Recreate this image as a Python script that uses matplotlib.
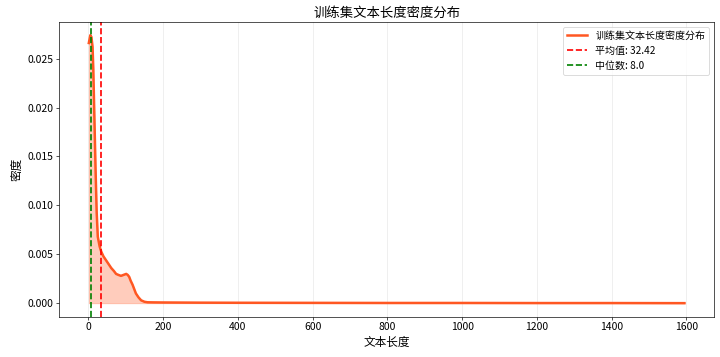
import numpy as np
import matplotlib
matplotlib.use("Agg")
import matplotlib.pyplot as plt

plt.rcParams['font.family'] = ['Noto Sans CJK SC', 'DejaVu Sans']
plt.rcParams['axes.unicode_minus'] = False

# KDE curve
lengths = [1, 5, 8, 11, 13, 16, 19, 22, 25, 30, 34, 40, 47, 54, 61, 68, 74, 80, 87,
           94, 101, 105, 109, 113, 118, 123, 127, 134, 141, 150, 158, 175, 200,
           300, 400, 600, 800, 1000, 1200, 1400, 1595]
density = [0.0266, 0.0274, 0.0272, 0.0262, 0.0239, 0.0188, 0.0137, 0.0093, 0.0068, 0.0058,
           0.0053, 0.0048, 0.0044, 0.0040, 0.0036, 0.0033, 0.0030, 0.0029, 0.0028,
           0.0029, 0.0030, 0.0029, 0.0027, 0.0023, 0.0019, 0.0014, 0.0010, 0.0006, 0.0003,
           0.00015, 0.0001, 0.00009, 0.00008,
           0.00006, 0.00005, 0.00004, 0.00003, 0.00003, 0.00002, 0.00002, 0.00001]

mean_len = 32.42
median_len = 8.0

line_color = '#FF5722'

fig, ax = plt.subplots(figsize=(12, 5.95), dpi=60)
ax.plot(lengths, density, color=line_color, linewidth=3, label='训练集文本长度密度分布')
ax.fill_between(lengths, density, color=line_color, alpha=0.3)
ax.axvline(mean_len, color='red', linestyle='--', linewidth=2, label=f'平均值: {mean_len:.2f}')
ax.axvline(median_len, color='green', linestyle='--', linewidth=2, label=f'中位数: {median_len}')

ax.set_title('训练集文本长度密度分布', fontsize=16)
ax.set_xlabel('文本长度', fontsize=14)
ax.set_ylabel('密度', fontsize=14)
ax.tick_params(labelsize=12.5)
ax.grid(axis='x', alpha=0.3)
ax.legend(loc='upper right', fontsize=12)

fig.subplots_adjust(left=0.082, right=0.992, top=0.939, bottom=0.113)
fig.savefig('out.png', dpi=60)
